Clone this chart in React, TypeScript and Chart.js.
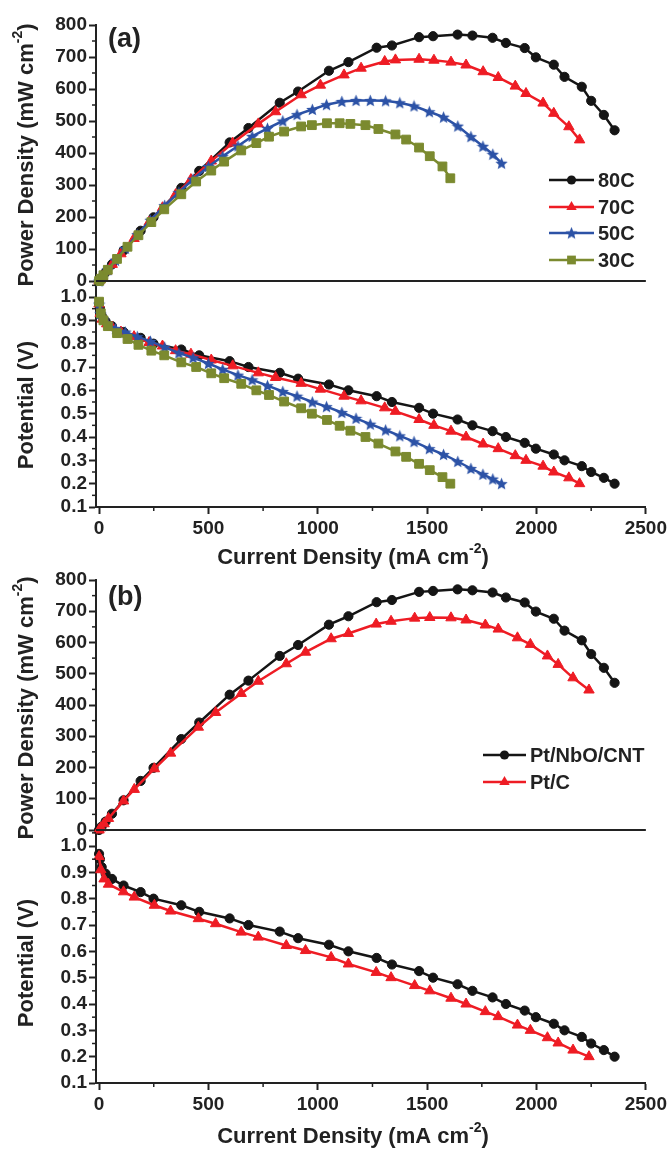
import React, { useEffect, useRef } from 'react';
import { Chart, registerables } from 'chart.js';
Chart.register(...registerables);

const FONT = "'Liberation Sans', Arial, sans-serif";

// ---------------- data ----------------
// x: current density (mA cm-2); P: power density (mW cm-2); V: potential (V)
const I80 = [0, 4, 12, 30, 59, 112, 190, 249, 376, 458, 597, 683, 826, 910, 1051, 1140, 1269, 1339, 1463, 1527, 1639, 1707, 1799, 1860, 1946, 1997, 2079, 2128, 2207, 2250, 2308, 2357];
const V80 = [0.97, 0.95, 0.92, 0.895, 0.875, 0.85, 0.825, 0.8, 0.775, 0.75, 0.725, 0.7, 0.675, 0.65, 0.625, 0.6, 0.575, 0.55, 0.525, 0.5, 0.475, 0.45, 0.425, 0.4, 0.375, 0.35, 0.325, 0.3, 0.275, 0.25, 0.225, 0.2];
const P80 = [0, 4, 11, 27, 52, 95, 157, 199, 291, 344, 433, 478, 557, 592, 657, 684, 729, 736, 762, 765, 770, 767, 760, 744, 728, 699, 676, 638, 607, 563, 519, 471];

const I70 = [0, 5, 15, 35, 60, 100, 160, 229, 290, 350, 420, 513, 611, 728, 807, 924, 1012, 1120, 1198, 1306, 1355, 1463, 1531, 1609, 1678, 1756, 1825, 1903, 1952, 2030, 2079, 2148, 2197];
const V70 = [0.97, 0.93, 0.905, 0.885, 0.87, 0.85, 0.83, 0.805, 0.79, 0.77, 0.755, 0.73, 0.705, 0.675, 0.655, 0.63, 0.605, 0.575, 0.555, 0.525, 0.51, 0.475, 0.45, 0.425, 0.4, 0.37, 0.35, 0.32, 0.3, 0.275, 0.25, 0.225, 0.2];
const P70 = [0, 5, 14, 31, 52, 85, 133, 184, 229, 270, 317, 375, 431, 491, 529, 582, 612, 644, 665, 686, 691, 693, 690, 684, 675, 654, 636, 609, 586, 556, 524, 482, 441];

const I50 = [0, 6, 18, 40, 75, 120, 175, 235, 300, 365, 430, 500, 565, 635, 700, 770, 840, 905, 975, 1040, 1110, 1175, 1240, 1310, 1375, 1440, 1510, 1575, 1640, 1700, 1755, 1800, 1840];
const V50 = [0.97, 0.93, 0.905, 0.885, 0.865, 0.85, 0.83, 0.81, 0.785, 0.76, 0.74, 0.715, 0.69, 0.665, 0.645, 0.62, 0.595, 0.575, 0.55, 0.53, 0.505, 0.48, 0.455, 0.43, 0.405, 0.38, 0.35, 0.325, 0.295, 0.265, 0.24, 0.22, 0.2];
const P50 = [0, 6, 16, 35, 65, 102, 145, 190, 236, 277, 318, 358, 390, 422, 452, 477, 500, 520, 536, 551, 561, 564, 564, 563, 557, 547, 529, 512, 484, 451, 421, 396, 368];

const I30 = [0, 8, 20, 40, 82, 130, 180, 239, 298, 376, 444, 513, 572, 650, 719, 777, 846, 924, 973, 1042, 1100, 1149, 1218, 1277, 1355, 1404, 1463, 1512, 1570, 1606];
const V30 = [0.98, 0.93, 0.9, 0.875, 0.845, 0.82, 0.795, 0.77, 0.75, 0.72, 0.7, 0.673, 0.652, 0.628, 0.6, 0.58, 0.552, 0.523, 0.5, 0.473, 0.448, 0.427, 0.4, 0.372, 0.338, 0.315, 0.285, 0.258, 0.228, 0.2];
const P30 = [0, 7, 18, 35, 69, 107, 143, 184, 224, 271, 311, 345, 373, 408, 431, 451, 467, 483, 487, 493, 493, 491, 487, 475, 458, 442, 417, 390, 358, 321];

const IPC = [0, 8, 23, 43, 112, 161, 253, 327, 454, 533, 650, 728, 856, 944, 1061, 1140, 1267, 1335, 1443, 1512, 1609, 1678, 1766, 1825, 1913, 1972, 2050, 2099, 2167, 2240];
const VPC = [0.96, 0.91, 0.875, 0.855, 0.826, 0.806, 0.775, 0.753, 0.724, 0.705, 0.673, 0.654, 0.622, 0.603, 0.577, 0.552, 0.52, 0.5, 0.47, 0.45, 0.422, 0.4, 0.371, 0.352, 0.32, 0.3, 0.272, 0.252, 0.225, 0.2];
const PPC = [0, 7, 20, 37, 93, 130, 196, 246, 329, 376, 437, 476, 532, 569, 612, 629, 659, 668, 678, 680, 679, 672, 656, 643, 615, 594, 557, 530, 487, 448];

const LABELS_A = ['80C', '70C', '50C', '30C'];
const LABELS_B = ['Pt/NbO/CNT', 'Pt/C'];

const X_TICKS = [0, 500, 1000, 1500, 2000, 2500];
const P_TICKS = [0, 100, 200, 300, 400, 500, 600, 700, 800];
const V_TICKS = [0.1, 0.2, 0.3, 0.4, 0.5, 0.6, 0.7, 0.8, 0.9, 1.0];

const BLACK = '#151515';
const RED = '#ee1c24';
const BLUE = '#2c52a6';
const OLIVE = '#7b8a2f';
const AXIS = '#222222';

function makeStar(color: string, size: number) {
  const c = document.createElement('canvas');
  c.width = size;
  c.height = size;
  const ctx = c.getContext('2d') as CanvasRenderingContext2D;
  const cx = size / 2, cy = size / 2 + 0.5, R = size / 2, r = R * 0.45;
  ctx.beginPath();
  for (let i = 0; i < 10; i++) {
    const a = -Math.PI / 2 + (i * Math.PI) / 5;
    const rr = i % 2 === 0 ? R : r;
    const x = cx + rr * Math.cos(a), y = cy + rr * Math.sin(a);
    if (i === 0) ctx.moveTo(x, y); else ctx.lineTo(x, y);
  }
  ctx.closePath();
  ctx.fillStyle = color;
  ctx.fill();
  return c;
}

type Series = { label: string; I: number[]; V: number[]; P: number[]; color: string; style: any; radius: number; order: number };

function drawMarker(ctx: CanvasRenderingContext2D, s: Series, x: number, y: number) {
  ctx.fillStyle = s.color;
  const r = s.radius;
  if (typeof s.style !== 'string') {
    const img = s.style as HTMLCanvasElement;
    ctx.drawImage(img, x - img.width / 2, y - img.height / 2);
  } else if (s.style === 'circle') {
    ctx.beginPath(); ctx.arc(x, y, r, 0, Math.PI * 2); ctx.fill();
  } else if (s.style === 'triangle') {
    ctx.beginPath();
    ctx.moveTo(x, y - r);
    ctx.lineTo(x + r * Math.sin(Math.PI * 2 / 3), y - r * Math.cos(Math.PI * 2 / 3));
    ctx.lineTo(x + r * Math.sin(Math.PI * 4 / 3), y - r * Math.cos(Math.PI * 4 / 3));
    ctx.closePath(); ctx.fill();
  } else if (s.style === 'rect') {
    const h = Math.SQRT1_2 * r;
    ctx.fillRect(x - h, y - h, 2 * h, 2 * h);
  }
}

type Part = { t: string; sup?: boolean };

function drawRich(ctx: CanvasRenderingContext2D, parts: Part[], cx: number, cy: number, size: number, rotate: boolean) {
  ctx.save();
  ctx.translate(cx, cy);
  if (rotate) ctx.rotate(-Math.PI / 2);
  const big = `bold ${size}px ${FONT}`;
  const small = `bold ${Math.round(size * 0.62)}px ${FONT}`;
  let total = 0;
  const widths = parts.map((p) => { ctx.font = p.sup ? small : big; const w = ctx.measureText(p.t).width; total += w; return w; });
  let x = -total / 2;
  ctx.fillStyle = AXIS;
  ctx.textBaseline = 'middle';
  ctx.textAlign = 'left';
  parts.forEach((p, i) => {
    ctx.font = p.sup ? small : big;
    ctx.fillText(p.t, x, p.sup ? -size * 0.38 : 0);
    x += widths[i];
  });
  ctx.restore();
}

type PanelProps = {
  top: number; height: number; padTop: number; xH: number; powW: number; potW: number; vMax: number;
  series: Series[]; labelText: string; labelPos: [number, number];
  legendYs: number[]; legendX: [number, number, number];
  xTitleY: number; yPTitleY: number; yVTitleY: number;
};

function Panel(props: PanelProps) {
  const ref = useRef<HTMLCanvasElement | null>(null);
  useEffect(() => {
    const canvas = ref.current;
    if (!canvas) return;
    const off = props.top;
    const datasets: any[] = [];
    props.series.forEach((s) => {
      const common = {
        label: s.label,
        borderColor: s.color,
        backgroundColor: s.color,
        borderWidth: 2.5,
        pointStyle: s.style,
        pointRadius: s.radius,
        pointBorderWidth: 1,
        pointBorderColor: s.color,
        pointBackgroundColor: s.color,
        order: s.order,
        clip: false,
        tension: 0,
      };
      datasets.push({ ...common, yAxisID: 'yP', data: s.I.map((x, i) => ({ x, y: s.P[i] })) });
      datasets.push({ ...common, yAxisID: 'yV', data: s.I.map((x, i) => ({ x, y: s.V[i] })) });
    });

    const tickFont = { family: FONT, size: 19, weight: 'bold' as any };
    const gridCfg = { drawOnChartArea: false, drawTicks: true, tickLength: 7, tickWidth: 2, tickColor: AXIS };
    const borderCfg = { display: true, color: AXIS, width: 2 };

    const decor = {
      id: 'decor',
      afterDraw(chart: any) {
        const { ctx, chartArea: a, scales } = chart;
        const yP = scales.yP, yV = scales.yV, xs = scales.x;
        ctx.save();
        ctx.strokeStyle = AXIS;
        // zero line of power density across plot
        const y0 = yP.getPixelForValue(0);
        ctx.lineWidth = 2;
        ctx.beginPath(); ctx.moveTo(a.left, y0); ctx.lineTo(a.right, y0); ctx.stroke();
        // minor ticks
        ctx.lineWidth = 1.5;
        for (let i = 0; i < P_TICKS.length - 1; i++) {
          const v = (P_TICKS[i] + P_TICKS[i + 1]) / 2;
          const yy = yP.getPixelForValue(v);
          ctx.beginPath(); ctx.moveTo(a.left - 4, yy); ctx.lineTo(a.left, yy); ctx.stroke();
        }
        const vMinor = V_TICKS.map((v) => v + 0.05).filter((v) => v < props.vMax);
        vMinor.forEach((v) => {
          const yy = yV.getPixelForValue(v);
          ctx.beginPath(); ctx.moveTo(a.left - 4, yy); ctx.lineTo(a.left, yy); ctx.stroke();
        });
        for (let i = 0; i < X_TICKS.length - 1; i++) {
          const v = (X_TICKS[i] + X_TICKS[i + 1]) / 2;
          const xx = xs.getPixelForValue(v);
          ctx.beginPath(); ctx.moveTo(xx, a.bottom); ctx.lineTo(xx, a.bottom + 4); ctx.stroke();
        }
        ctx.restore();

        // axis titles
        drawRich(ctx, [{ t: 'Current Density (mA cm' }, { t: '-2', sup: true }, { t: ')' }], 353, props.xTitleY - off, 22, false);
        drawRich(ctx, [{ t: 'Power Density (mW cm' }, { t: '-2', sup: true }, { t: ')' }], 27, props.yPTitleY - off, 22, true);
        drawRich(ctx, [{ t: 'Potential (V)' }], 27, props.yVTitleY - off, 22, true);

        // panel label
        ctx.save();
        ctx.font = `bold 27px ${FONT}`;
        ctx.fillStyle = AXIS;
        ctx.textBaseline = 'middle';
        ctx.textAlign = 'left';
        ctx.fillText(props.labelText, props.labelPos[0], props.labelPos[1] - off);
        ctx.restore();

        // legend
        const [x1, x2, tx] = props.legendX;
        const legendOrder = [...props.series].sort((p, q) => q.order - p.order);
        legendOrder.forEach((s, i) => {
          const yy = props.legendYs[i] - off;
          ctx.save();
          ctx.strokeStyle = s.color;
          ctx.lineWidth = 2.5;
          ctx.beginPath(); ctx.moveTo(x1, yy); ctx.lineTo(x2, yy); ctx.stroke();
          drawMarker(ctx, s, (x1 + x2) / 2, yy);
          ctx.font = `bold 20px ${FONT}`;
          ctx.fillStyle = AXIS;
          ctx.textBaseline = 'middle';
          ctx.textAlign = 'left';
          ctx.fillText(s.label, tx, yy + 1);
          ctx.restore();
        });
      },
    };

    const chart = new Chart(canvas, {
      type: 'line',
      data: { datasets },
      options: {
        responsive: false,
        animation: false,
        devicePixelRatio: 1,
        layout: { padding: { top: props.padTop, right: 24, left: 0, bottom: 0 } },
        plugins: { legend: { display: false }, tooltip: { enabled: false } },
        scales: {
          x: {
            type: 'linear', position: 'bottom', min: -14, max: X_TICKS[X_TICKS.length - 1],
            afterFit: (s: any) => { s.height = props.xH; },
            afterBuildTicks: (s: any) => { s.ticks = X_TICKS.map((v) => ({ value: v })); },
            ticks: { autoSkip: false, font: tickFont, color: AXIS, padding: 3, maxRotation: 0, callback: (v: any) => String(v) },
            grid: gridCfg, border: borderCfg,
          },
          yV: {
            type: 'linear', position: 'left', stack: 'left', stackWeight: props.potW, min: V_TICKS[0], max: props.vMax,
            afterFit: (s: any) => { s.width = 96; },
            afterBuildTicks: (s: any) => { s.ticks = V_TICKS.map((v) => ({ value: v })); },
            ticks: { autoSkip: false, font: tickFont, color: AXIS, padding: 2, callback: (v: any) => Number(v).toFixed(1) },
            grid: gridCfg, border: borderCfg,
          },
          yP: {
            type: 'linear', position: 'left', stack: 'left', stackWeight: props.powW, min: P_TICKS[0], max: P_TICKS[P_TICKS.length - 1],
            afterFit: (s: any) => { s.width = 96; },
            afterBuildTicks: (s: any) => { s.ticks = P_TICKS.map((v) => ({ value: v })); },
            ticks: { autoSkip: false, font: tickFont, color: AXIS, padding: 2, callback: (v: any) => String(Math.round(Number(v))) },
            grid: gridCfg, border: borderCfg,
          },
        },
      } as any,
      plugins: [decor],
    });
    return () => chart.destroy();
  }, []);
  return (
    <canvas
      ref={ref}
      width={670}
      height={props.height}
      style={{ position: 'absolute', left: 0, top: props.top, width: 670, height: props.height }}
    />
  );
}

export default function App() {
  const star = makeStar(BLUE, 13);
  const seriesA: Series[] = [
    { label: LABELS_A[0], I: I80, V: V80, P: P80, color: BLACK, style: 'circle', radius: 4.6, order: 3 },
    { label: LABELS_A[1], I: I70, V: V70, P: P70, color: RED, style: 'triangle', radius: 6, order: 2 },
    { label: LABELS_A[2], I: I50, V: V50, P: P50, color: BLUE, style: star, radius: 6, order: 1 },
    { label: LABELS_A[3], I: I30, V: V30, P: P30, color: OLIVE, style: 'rect', radius: 6.2, order: 0 },
  ];
  const seriesB: Series[] = [
    { label: LABELS_B[0], I: I80, V: V80, P: P80, color: BLACK, style: 'circle', radius: 4.6, order: 1 },
    { label: LABELS_B[1], I: IPC, V: VPC, P: PPC, color: RED, style: 'triangle', radius: 6, order: 0 },
  ];
  return (
    <div style={{ position: 'absolute', left: 0, top: 0, width: 670, height: 1149, background: '#fff', overflow: 'hidden' }}>
      <Panel
        top={0} height={575} padTop={25} xH={68} powW={256} potW={226} vMax={1.0686}
        series={seriesA} labelText="(a)" labelPos={[108, 40]}
        legendYs={[180, 207, 233, 260]} legendX={[549, 594, 598]}
        xTitleY={558} yPTitleY={155} yVTitleY={405}
      />
      <Panel
        top={555} height={594} padTop={25} xH={66} powW={250} potW={253} vMax={1.0608}
        series={seriesB} labelText="(b)" labelPos={[108, 598]}
        legendYs={[755, 782]} legendX={[483, 526, 530]}
        xTitleY={1137} yPTitleY={708} yVTitleY={963}
      />
    </div>
  );
}
